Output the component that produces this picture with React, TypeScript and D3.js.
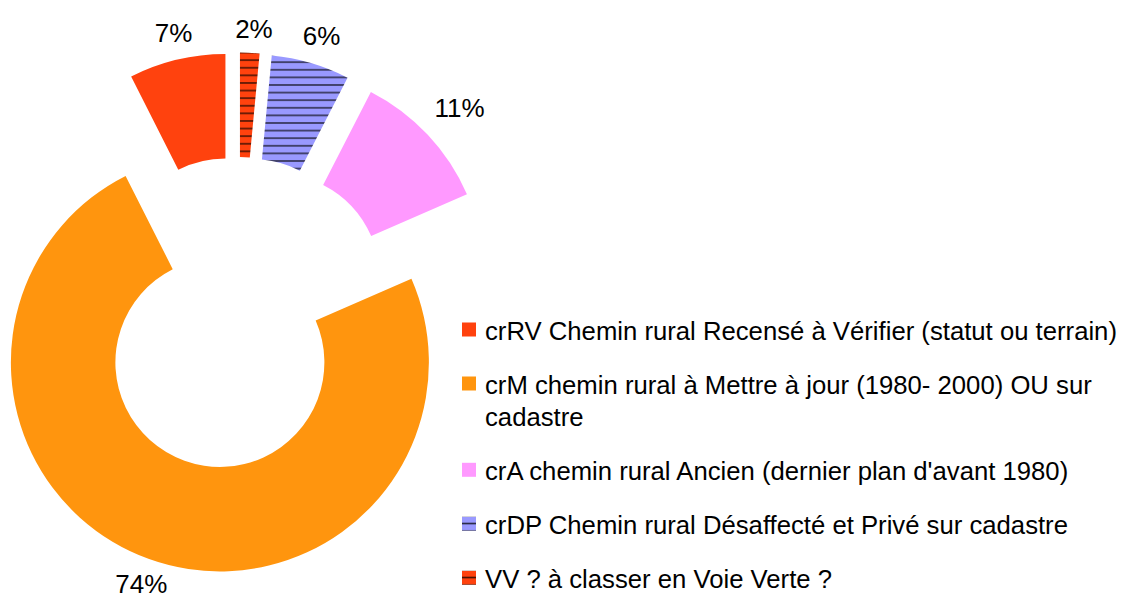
import React from "react";
import * as d3 from "d3";

const categories = [
  "crRV Chemin rural Recensé à Vérifier (statut ou terrain)",
  "crM chemin rural à Mettre à jour (1980- 2000) OU sur cadastre",
  "crA chemin rural Ancien (dernier plan d'avant 1980)",
  "crDP Chemin rural Désaffecté et Privé sur cadastre",
  "VV ? à classer en Voie Verte ?",
];
const legendLines = [
  ["crRV Chemin rural Recensé à Vérifier (statut ou terrain)"],
  ["crM chemin rural à Mettre à jour (1980- 2000) OU sur", "cadastre"],
  ["crA chemin rural Ancien (dernier plan d'avant 1980)"],
  ["crDP Chemin rural Désaffecté et Privé sur cadastre"],
  ["VV ? à classer en Voie Verte ?"],
];
const values = [7.45, 74.1, 10.9, 6.05, 1.5];
const colors = ["#FF420E", "#FF950E", "#FF99FF", "#9999FF", "#FF420E"];
const hatched = [false, false, false, true, true];

const W = 1124;
const H = 599;
const CX = 237.5;
const CY = 313.5;
const R = 209;
const RI = 104.5;
const EXPLODE = 52;
const FS_LABEL = 26;
const FS_LEGEND = 25.7;
const FONT = "'Liberation Sans', Arial, sans-serif";

export default function App() {
  const total = d3.sum(values);
  const pie = d3
    .pie<number>()
    .sort(null)
    .value((d) => d)
    .startAngle(0)
    .endAngle(-2 * Math.PI);
  const arcs = pie(values);
  const arcGen = d3.arc<d3.PieArcDatum<number>>().innerRadius(RI).outerRadius(R);

  const legendX = 462;
  const legendTextX = 485;
  const baselines: number[] = [];
  let y = 339.5;
  legendLines.forEach((lines) => {
    baselines.push(y);
    y += (lines.length - 1) * 32.3 + 54;
  });

  return (
    <svg
      width={W}
      height={H}
      style={{ position: "absolute", left: 0, top: 0, background: "#fff" }}
      fontFamily={FONT}
    >
      <defs>
        {arcs.map((a, i) =>
          hatched[i] ? (
            <pattern
              key={"p" + i}
              id={"hatch" + i}
              patternUnits="userSpaceOnUse"
              width={8}
              height={7.6}
            >
              <rect width={8} height={7.6} fill={colors[i]} />
              <line x1={0} x2={8} y1={3.8} y2={3.8} stroke="#000" strokeWidth={1.1} />
            </pattern>
          ) : null
        )}
        {legendLines.map((_, i) =>
          hatched[i] ? (
            <pattern
              key={"lp" + i}
              id={"lhatch" + i}
              patternUnits="userSpaceOnUse"
              x={legendX}
              y={baselines[i] - 17}
              width={14}
              height={7.5}
            >
              <rect width={14} height={7.5} fill={colors[i]} />
              <line x1={0} x2={14} y1={6.8} y2={6.8} stroke="#000" strokeWidth={1.2} />
            </pattern>
          ) : null
        )}
      </defs>
      {arcs.map((a, i) => {
        const mid = (a.startAngle + a.endAngle) / 2;
        const dx = Math.sin(mid);
        const dy = -Math.cos(mid);
        const ox = CX + EXPLODE * dx;
        const oy = CY + EXPLODE * dy;
        return (
          <path
            key={"s" + i}
            d={arcGen(a) || ""}
            transform={`translate(${ox},${oy})`}
            fill={hatched[i] ? `url(#hatch${i})` : colors[i]}
          />
        );
      })}
      {arcs.map((a, i) => {
        const mid = (a.startAngle + a.endAngle) / 2;
        const dx = Math.sin(mid);
        const dy = -Math.cos(mid);
        const ox = CX + EXPLODE * dx;
        const oy = CY + EXPLODE * dy;
        const label = Math.round((values[i] / total) * 100) + "%";
        const tw = ((label.length - 1) * 0.556 + 0.889) * FS_LABEL;
        const hw = tw / 2;
        const hh = 0.36 * FS_LABEL;
        const ext = Math.abs(dx) * hw + Math.abs(dy) * hh;
        const dist = R + 14 + ext;
        const lx = ox + dist * dx + 3;
        const ly = oy + dist * dy;
        return (
          <text
            key={"l" + i}
            x={lx}
            y={Math.min(ly + hh, 593)}
            textAnchor="middle"
            fontSize={FS_LABEL}
            fill="#000"
          >
            {label}
          </text>
        );
      })}
      {legendLines.map((lines, i) => (
        <g key={"g" + i}>
          <rect
            x={legendX}
            y={baselines[i] - 17}
            width={14}
            height={14}
            fill={hatched[i] ? `url(#lhatch${i})` : colors[i]}
          />
          <text x={legendTextX} y={baselines[i]} fontSize={FS_LEGEND} fill="#000">
            {lines.map((ln, j) => (
              <tspan key={j} x={legendTextX} dy={j === 0 ? 0 : 32.3}>
                {ln}
              </tspan>
            ))}
          </text>
        </g>
      ))}
    </svg>
  );
}
